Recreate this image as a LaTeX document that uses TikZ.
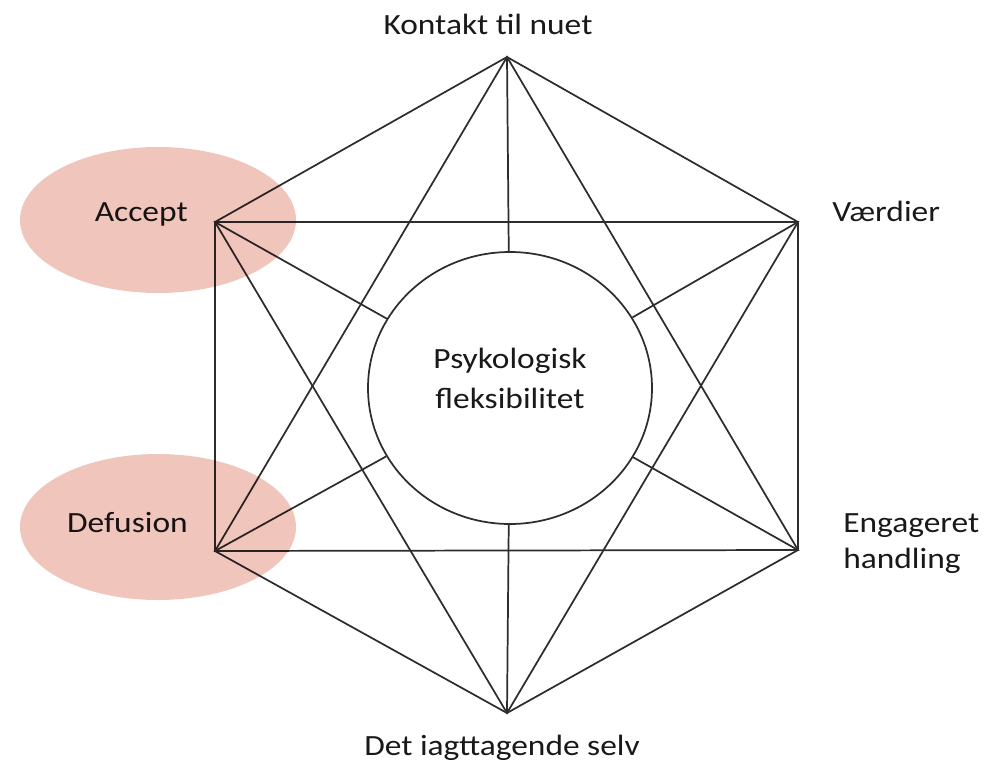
\documentclass[tikz,border=0pt]{standalone}
\usepackage{fontspec}
\setmainfont{Carlito}[FakeStretch=1.14]
\usetikzlibrary{shapes.geometric,positioning}
\definecolor{rosaMarkering}{RGB}{239,197,188}
\definecolor{linjeGraa}{RGB}{45,45,45}
\tikzset{
  linje/.style={line width=1.3pt, linjeGraa},
  etiket/.style={font=\fontsize{22}{27}\selectfont, text=black!90, inner sep=0pt},
  kerne/.style={ellipse, draw=linjeGraa, line width=1.3pt, fill=white,
                minimum width=213pt, minimum height=204pt, inner sep=0pt},
  markering/.style={ellipse, fill=rosaMarkering, minimum width=207pt,
                    minimum height=109.5pt, inner sep=0pt},
}
\begin{document}
\begin{tikzpicture}[x=0.75pt, y=-0.75pt]
  \useasboundingbox (0,0) rectangle (986,765);
  % hjoerner
  \coordinate (top) at (507,57);
  \coordinate (oh) at (798,222);
  \coordinate (nh) at (798,550);
  \coordinate (bund) at (507,713);
  \coordinate (nv) at (215,551);
  \coordinate (ov) at (215,222);
  % sekskant og trekanter
  \draw[linje] (top)--(oh)--(nh)--(bund)--(nv)--(ov)--cycle;
  \draw[linje] (top)--(nh)--(nv)--cycle;
  \draw[linje] (bund)--(ov)--(oh)--cycle;
  \node[kerne] (kerne) at (510,388) {};
  \foreach \p in {top,oh,nh,bund,nv,ov} \draw[linje] (\p)--(kerne);
  \node[etiket, align=center, font=\fontsize{22}{30}\selectfont] (kernetekst) at (510,378) {Psykologisk\\fleksibilitet};
  % etiketter
  \node[etiket, anchor=base] (kontakt) at (488,34) {Kontakt til nuet};
  \node[etiket, anchor=base west] (vaerdier) at (832,221) {Værdier};
  \node[etiket, anchor=base west, align=left] (handling) at (843,568) {Engageret\\handling};
  \node[etiket, anchor=base] (selv) at (502,755) {Det iagttagende selv};
  \node[etiket, anchor=base east] (accept) at (188,221) {Accept};
  \node[etiket, anchor=base east] (defusion) at (188,532) {Defusion};
  % markeringer
  \begin{scope}[blend mode=multiply]
    \node[markering] (m1) at (158,220) {};
    \node[markering] (m2) at (158,527) {};
  \end{scope}
\end{tikzpicture}
\end{document}
